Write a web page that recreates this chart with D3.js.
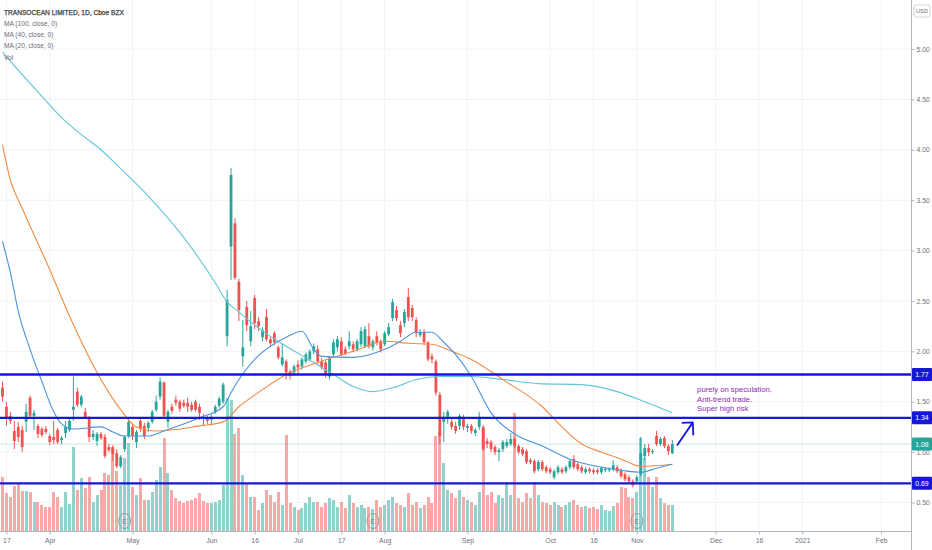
<!DOCTYPE html>
<html>
<head>
<meta charset="utf-8">
<script src="https://cdn.jsdelivr.net/npm/d3@7"></script>
<style>
  body { margin: 0; background: #fff; }
  svg { display: block; }
  text { font-family: "Liberation Sans", Arial, sans-serif; }
</style>
</head>
<body>
<div id="chart"></div>
<script>
// ----- data (daily bars from 2020-03-16)

var opens = [
  1.64,1.45,1.36,1.21,1.25,1.22,1.30,1.54,1.36,1.26,
  1.23,1.23,1.16,1.15,1.22,1.12,1.19,1.22,1.42,1.60,
  1.47,1.40,1.34,1.15,1.11,1.18,1.15,1.05,1.05,0.99,
  0.86,1.03,1.16,1.25,1.10,1.31,1.26,1.24,1.30,1.42,
  1.55,1.69,1.30,1.45,1.52,1.50,1.49,1.49,1.47,1.50,
  1.45,1.35,1.34,1.32,1.40,1.46,1.50,2.15,3.04,3.27,
  2.69,1.95,2.44,2.10,2.53,2.30,2.14,2.34,2.12,2.18,
  2.04,1.87,1.90,1.80,1.79,1.87,1.85,1.90,1.92,2.00,
  2.02,1.90,1.89,1.75,1.97,2.04,2.10,2.02,2.05,2.07,
  2.02,2.07,2.05,2.15,2.04,2.15,2.09,2.07,2.17,2.33,
  2.41,2.26,2.28,2.54,2.43,2.31,2.16,2.19,2.09,1.95,
  1.90,1.57,1.30,1.35,1.30,1.26,1.26,1.35,1.24,1.26,
  1.19,1.25,1.25,1.11,1.10,1.05,1.00,1.03,1.06,1.08,
  1.13,1.06,1.03,1.01,0.92,0.91,0.83,0.90,0.85,0.83,
  0.75,0.80,0.83,0.81,0.85,0.93,0.88,0.85,0.80,0.83,
  0.82,0.82,0.80,0.82,0.82,0.83,0.85,0.82,0.78,0.75,
  0.71,0.71,0.78,0.96,1.04,1.00,1.16,1.08,1.14,1.06,
  0.99
];

var highs = [
  1.70,1.50,1.40,1.31,1.30,1.26,1.48,1.56,1.42,1.28,
  1.25,1.26,1.18,1.31,1.24,1.16,1.31,1.33,1.75,1.64,
  1.57,1.44,1.36,1.22,1.20,1.20,1.18,1.08,1.07,1.03,
  0.97,1.16,1.32,1.28,1.22,1.34,1.29,1.31,1.42,1.56,
  1.74,1.70,1.42,1.48,1.56,1.52,1.52,1.54,1.50,1.52,
  1.48,1.38,1.36,1.37,1.47,1.55,1.69,2.61,3.82,3.32,
  2.72,2.31,2.50,2.40,2.56,2.34,2.24,2.42,2.14,2.20,
  2.06,2.08,1.92,1.82,1.87,1.91,1.94,1.99,2.02,2.08,
  2.06,1.93,1.91,1.95,2.12,2.15,2.14,2.05,2.20,2.10,
  2.12,2.24,2.25,2.28,2.12,2.20,2.12,2.20,2.28,2.52,
  2.45,2.30,2.42,2.63,2.46,2.34,2.22,2.22,2.10,1.98,
  1.92,1.60,1.40,1.42,1.33,1.30,1.38,1.37,1.28,1.28,
  1.24,1.40,1.27,1.14,1.12,1.07,1.04,1.12,1.13,1.19,
  1.15,1.08,1.05,1.03,0.94,0.93,0.92,0.92,0.87,0.85,
  0.83,0.87,0.85,0.87,0.93,0.97,0.90,0.87,0.85,0.85,
  0.84,0.84,0.86,0.85,0.85,0.92,0.87,0.84,0.80,0.77,
  0.73,0.77,1.15,1.08,1.08,1.03,1.21,1.15,1.16,1.08,
  1.12
];

var lows = [
  1.50,1.26,1.28,1.03,1.10,1.00,1.20,1.34,1.22,1.14,
  1.15,1.18,1.07,1.08,1.08,1.08,1.14,1.20,1.31,1.45,
  1.45,1.33,1.10,1.12,1.06,1.12,0.94,1.00,0.91,0.84,
  0.84,1.00,1.14,1.12,1.04,1.20,1.13,1.20,1.28,1.40,
  1.52,1.34,1.24,1.38,1.46,1.40,1.44,1.40,1.40,1.40,
  1.32,1.26,1.28,1.28,1.38,1.44,1.48,2.05,2.71,2.71,
  2.30,1.85,2.20,2.05,2.22,2.20,2.10,2.10,2.04,2.06,
  1.92,1.85,1.72,1.72,1.76,1.76,1.82,1.88,1.90,1.97,
  1.88,1.82,1.74,1.72,1.95,2.00,1.95,1.96,2.02,1.99,
  2.00,2.04,2.03,2.03,2.01,2.06,1.99,2.05,2.15,2.30,
  2.30,2.14,2.24,2.30,2.30,2.14,2.14,2.06,1.90,1.88,
  1.56,1.08,1.10,1.28,1.22,1.18,1.22,1.22,1.20,1.18,
  1.16,1.22,1.01,1.04,1.00,0.97,0.91,1.00,1.04,1.06,
  1.04,0.98,0.96,0.88,0.88,0.79,0.81,0.81,0.79,0.78,
  0.73,0.78,0.78,0.79,0.83,0.83,0.81,0.79,0.78,0.79,
  0.78,0.78,0.78,0.80,0.80,0.81,0.79,0.74,0.71,0.69,
  0.65,0.69,0.76,0.92,0.96,0.98,1.06,1.06,1.04,0.97,
  0.98
];

var closes = [
  1.55,1.33,1.31,1.11,1.15,1.05,1.40,1.36,1.39,1.18,
  1.17,1.20,1.10,1.12,1.10,1.14,1.25,1.31,1.45,1.47,
  1.55,1.34,1.15,1.18,1.18,1.14,0.96,1.02,0.98,0.86,
  0.95,1.15,1.30,1.16,1.20,1.23,1.16,1.29,1.40,1.50,
  1.70,1.36,1.40,1.41,1.49,1.43,1.46,1.45,1.42,1.42,
  1.39,1.33,1.31,1.35,1.45,1.53,1.67,2.51,3.75,2.73,
  2.41,2.04,2.26,2.25,2.28,2.25,2.21,2.12,2.08,2.09,
  1.94,1.94,1.79,1.76,1.85,1.84,1.92,1.97,2.00,2.05,
  1.90,1.84,1.77,1.94,2.09,2.12,1.97,1.98,2.10,2.02,
  2.10,2.20,2.22,2.05,2.10,2.09,2.02,2.18,2.24,2.49,
  2.33,2.18,2.39,2.34,2.34,2.18,2.19,2.09,1.92,1.92,
  1.59,1.16,1.35,1.40,1.25,1.21,1.36,1.25,1.26,1.21,
  1.22,1.35,1.03,1.08,1.03,1.00,1.02,1.10,1.10,1.13,
  1.06,1.00,0.98,0.90,0.90,0.81,0.90,0.83,0.81,0.80,
  0.81,0.85,0.80,0.85,0.91,0.85,0.83,0.81,0.83,0.81,
  0.80,0.80,0.84,0.83,0.83,0.87,0.81,0.76,0.73,0.71,
  0.67,0.75,0.99,1.04,1.00,1.01,1.08,1.13,1.06,1.01,
  1.08
];

// volume, millions of shares (estimated)
var volumes = [
  54,38,34,45,48,40,40,39,29,29,
  26,24,24,39,34,24,39,27,84,41,
  53,43,54,29,36,41,58,56,83,60,
  46,73,88,44,36,53,31,31,39,51,
  64,93,58,41,33,30,28,30,31,33,
  38,30,28,28,29,31,46,133,131,97,
  103,56,48,34,34,21,28,41,36,29,
  39,26,96,28,24,21,23,28,34,29,
  29,24,28,33,31,24,29,23,36,28,
  24,26,23,24,22,31,24,26,31,34,
  28,26,24,38,26,29,23,26,34,28,
  95,100,68,41,38,33,41,34,31,29,
  26,39,103,36,39,28,36,33,49,36,
  118,33,29,38,33,49,36,29,28,26,
  29,26,24,26,29,31,26,24,25,23,
  24,22,26,21,20,25,28,44,43,34,
  33,39,93,73,54,44,54,33,28,26,
  26
];

// moving averages read at [bar index, value]
var ma100 = [[0,4.97],[4,4.79],[10,4.53],[15,4.32],[20,4.15],[25,4.00],[29,3.85],[37,3.54],
  [46,3.13],[54,2.68],[57,2.49],[60,2.39],[66,2.20],[72,2.05],[79,1.89],[84,1.77],[89,1.65],
  [94,1.60],[100,1.65],[105,1.72],[111,1.75],[119,1.75],[127,1.72],[136,1.68],[147,1.67],
  [156,1.60],[163,1.50],[170,1.39]];
var ma40 = [[0,4.05],[2,3.70],[5,3.42],[12,2.81],[17,2.35],[24,1.79],[27,1.59],[30,1.42],[34,1.25],
  [39,1.21],[50,1.26],[56,1.30],[60,1.45],[66,1.62],[72,1.77],[80,1.89],[89,2.00],[97,2.10],
  [103,2.08],[109,2.07],[114,2.00],[119,1.92],[127,1.72],[137,1.45],[142,1.25],[147,1.08],
  [152,1.00],[157,0.93],[162,0.86],[170,0.88]];
var ma20 = [[0,3.09],[2,2.78],[4,2.40],[7,2.02],[10,1.70],[13,1.40],[15,1.28],[18,1.23],[25,1.25],
  [28,1.20],[31,1.16],[37,1.16],[41,1.21],[50,1.34],[56,1.45],[58,1.59],[60,1.72],[64,1.92],[72,2.14],
  [76,2.20],[79,2.02],[81,1.95],[89,1.94],[97,2.02],[101,2.10],[105,2.19],[109,2.19],
  [112,2.09],[116,1.92],[119,1.75],[124,1.39],[130,1.18],[137,1.06],[144,0.93],[152,0.85],
  [157,0.82],[162,0.80],[166,0.84],[170,0.88]];

var levels = [1.77, 1.34, 0.69];
var lastPrice = 1.08;
var earnings = ["2020-04-29", "2020-07-29", "2020-11-02"];

var priceTicks = [0.5, 1.0, 1.5, 2.0, 2.5, 3.0, 3.5, 4.0, 4.5, 5.0];
var dateTicks = ["2020-03-17","2020-04-01","2020-05-01","2020-06-01","2020-06-16","2020-07-01",
  "2020-07-17","2020-08-03","2020-09-01","2020-10-01","2020-10-16","2020-11-02","2020-12-01",
  "2020-12-16","2021-01-04","2021-02-01"];
var dateLabels = ["17","Apr","May","Jun","16","Jul","17","Aug","Sep","Oct","16","Nov","Dec","16","2021","Feb"];
var holidays = ["2020-04-10","2020-05-25","2020-07-03","2020-09-07","2020-11-26","2020-12-25","2021-01-01"];

var legendLines = ["TRANSOCEAN LIMITED, 1D, Cboe BZX", "MA (100, close, 0)", "MA (40, close, 0)", "MA (20, close, 0)", "Vol"];
var noteLines = ["purely on speculation.", "Anti-trend trade.", "Super high risk"];

// ----- trading day calendar (data bars plus the empty future)
var fmt = d3.timeFormat("%Y-%m-%d");
var days = d3.timeDay.range(new Date(2020, 2, 16), new Date(2021, 1, 20))
  .filter(function(d) { return d.getDay() !== 0 && d.getDay() !== 6 && holidays.indexOf(fmt(d)) < 0; })
  .map(fmt);

var bars = opens.map(function(o, i) {
  return { i: i, o: o, h: highs[i], l: lows[i], c: closes[i], v: volumes[i], up: closes[i] >= o };
});

// ----- layout
var W = 932, H = 550, plotR = 911, plotB = 531;
var UP = "#26a69a", DOWN = "#ef5350", LEVEL = "#1717d8";
var AXIS_TXT = "#6f727b";

var x = d3.scaleLinear().domain([0, 230]).range([2.5, 2.5 + 230 * 3.94]);
var y = d3.scaleLinear().domain([0.5, 5.0]).range([502.5, 49]);
var yVol = d3.scaleLinear().domain([0, 140]).range([plotB, plotB - 140]);

var svg = d3.select("#chart").append("svg").attr("width", W).attr("height", H);
svg.append("rect").attr("width", W).attr("height", H).attr("fill", "#fff");

svg.append("clipPath").attr("id", "plot")
  .append("rect").attr("width", plotR).attr("height", plotB);

var g = svg.append("g").attr("clip-path", "url(#plot)");

// grid
g.selectAll("line.hgrid").data(priceTicks).enter().append("line")
  .attr("x1", 0).attr("x2", plotR)
  .attr("y1", function(d) { return y(d); }).attr("y2", function(d) { return y(d); })
  .attr("stroke", "#f0f2f6");
g.selectAll("line.vgrid").data(dateTicks).enter().append("line")
  .attr("y1", 0).attr("y2", plotB)
  .attr("x1", function(d) { return x(days.indexOf(d)); }).attr("x2", function(d) { return x(days.indexOf(d)); })
  .attr("stroke", "#f0f2f6");

// volume
g.selectAll("rect.vol").data(bars).enter().append("rect")
  .attr("x", function(d) { return x(d.i) - 1.5; })
  .attr("width", 3)
  .attr("y", function(d) { return yVol(d.v); })
  .attr("height", function(d) { return plotB - yVol(d.v); })
  .attr("fill", function(d) { return d.up ? "#92d2cc" : "#f7a9a7"; })
  .attr("shape-rendering", "crispEdges");

// earnings markers
var eg = g.selectAll("g.earn").data(earnings).enter().append("g")
  .attr("transform", function(d) { return "translate(" + x(days.indexOf(d)) + ",521)"; });
eg.append("ellipse").attr("rx", 6).attr("ry", 7.5)
  .attr("fill", "none").attr("stroke", "#8f939c").attr("stroke-width", 0.9);
eg.append("text").attr("text-anchor", "middle").attr("y", 2.6)
  .attr("font-size", 7).attr("fill", "#7d818a").text("E");

// last price line
g.append("line").attr("x1", 0).attr("x2", plotR)
  .attr("y1", y(lastPrice)).attr("y2", y(lastPrice))
  .attr("stroke", UP).attr("stroke-opacity", 0.25).attr("stroke-width", 1);

// candles
var cg = g.selectAll("g.candle").data(bars).enter().append("g");
cg.append("line")
  .attr("x1", function(d) { return x(d.i); }).attr("x2", function(d) { return x(d.i); })
  .attr("y1", function(d) { return y(d.h); }).attr("y2", function(d) { return y(d.l); })
  .attr("stroke", function(d) { return d.up ? UP : DOWN; }).attr("stroke-width", 1);
cg.append("rect")
  .attr("x", function(d) { return x(d.i) - 1.4; })
  .attr("width", 2.8)
  .attr("y", function(d) { return y(Math.max(d.o, d.c)); })
  .attr("height", function(d) { return Math.max(1, Math.abs(y(d.o) - y(d.c))); })
  .attr("fill", function(d) { return d.up ? UP : DOWN; });

// moving averages
var maLine = d3.line()
  .x(function(d) { return x(d[0]); })
  .y(function(d) { return y(d[1]); })
  .curve(d3.curveMonotoneX);
[[ma100, "#5fc7d6"], [ma40, "#f28b42"], [ma20, "#4d94dc"]].forEach(function(m) {
  g.append("path").datum(m[0]).attr("d", maLine)
    .attr("fill", "none").attr("stroke", m[1]).attr("stroke-width", 1.1);
});

// horizontal levels
g.selectAll("line.level").data(levels).enter().append("line")
  .attr("x1", 0).attr("x2", plotR)
  .attr("y1", function(d) { return y(d); }).attr("y2", function(d) { return y(d); })
  .attr("stroke", LEVEL).attr("stroke-width", 2.4);

// arrow + note
var arrowFrom = [171.2, 1.066], arrowTo = [175.2, 1.295];
var tip = [x(arrowTo[0]), y(arrowTo[1])];
g.append("path")
  .attr("d", "M" + x(arrowFrom[0]) + "," + y(arrowFrom[1]) + "L" + tip[0] + "," + tip[1] +
    "M" + (tip[0] - 11) + "," + (tip[1] + 0.5) + "L" + tip[0] + "," + tip[1] + "L" + (tip[0] + 0.5) + "," + (tip[1] + 13))
  .attr("fill", "none").attr("stroke", LEVEL).attr("stroke-width", 1.8)
  .attr("stroke-linejoin", "round");

var noteAt = [176.3, 1.595];
svg.append("g").selectAll("text").data(noteLines).enter().append("text")
  .attr("x", x(noteAt[0])).attr("y", function(d, i) { return y(noteAt[1]) + i * 9.5; })
  .attr("font-size", 7.7).attr("fill", "#9126b8").text(function(d) { return d; });

// axes frame
svg.append("line").attr("x1", plotR + 0.5).attr("x2", plotR + 0.5).attr("y1", 0).attr("y2", H)
  .attr("stroke", "#b2b5be");
svg.append("line").attr("x1", 0).attr("x2", plotR).attr("y1", plotB + 0.5).attr("y2", plotB + 0.5)
  .attr("stroke", "#b2b5be");

// price axis
var yAxis = svg.append("g").attr("transform", "translate(" + (plotR + 0.5) + ",0)")
  .call(d3.axisRight(y).tickValues(priceTicks).tickFormat(d3.format(".2f")).tickSize(3).tickPadding(2));
yAxis.select(".domain").remove();
yAxis.selectAll("line").attr("stroke", "#b2b5be");
yAxis.selectAll("text").attr("font-size", 6.9).attr("fill", AXIS_TXT)
  .style("font-family", "'Liberation Sans', Arial, sans-serif");

// time axis
var xAxis = svg.append("g").attr("transform", "translate(0," + (plotB + 0.5) + ")")
  .call(d3.axisBottom(x).tickValues(dateTicks.map(function(d) { return days.indexOf(d); }))
    .tickFormat(function(d, i) { return dateLabels[i]; }).tickSize(3).tickPadding(4));
xAxis.select(".domain").remove();
xAxis.selectAll("line").attr("stroke", "#b2b5be");
xAxis.selectAll("text").attr("font-size", 6.9).attr("fill", AXIS_TXT)
  .style("font-family", "'Liberation Sans', Arial, sans-serif");

// right-side value tags
function tag(v, color) {
  var t = svg.append("g").attr("transform", "translate(" + (plotR + 1) + "," + y(v) + ")");
  t.append("rect").attr("x", 0).attr("y", -6.5).attr("width", W - plotR - 1).attr("height", 13)
    .attr("rx", 1).attr("fill", color);
  t.append("text").attr("x", (W - plotR - 1) / 2).attr("y", 2.5).attr("text-anchor", "middle")
    .attr("font-size", 6.9).attr("fill", "#fff")
    .text(d3.format(".2f")(v));
}
levels.forEach(function(v) { tag(v, LEVEL); });
tag(lastPrice, UP);

// currency box
var usd = svg.append("g").attr("transform", "translate(914,5)");
usd.append("rect").attr("width", 16).attr("height", 12).attr("rx", 2)
  .attr("fill", "#fff").attr("stroke", "#d1d4dc");
usd.append("text").attr("x", 8).attr("y", 8.4).attr("text-anchor", "middle")
  .attr("font-size", 5.8).attr("fill", AXIS_TXT).text("USD");

// legend
svg.append("g").selectAll("text").data(legendLines).enter().append("text")
  .attr("x", 4).attr("y", function(d, i) { return 14.5 + i * 11.3; })
  .attr("font-size", 6.6)
  .attr("fill", function(d, i) { return i === 0 ? "#3c3e44" : "#6a6d75"; })
  .attr("stroke", function(d, i) { return i === 0 ? "#3c3e44" : "none"; })
  .attr("stroke-width", 0.25)
  .text(function(d) { return d; });
</script>
</body>
</html>
